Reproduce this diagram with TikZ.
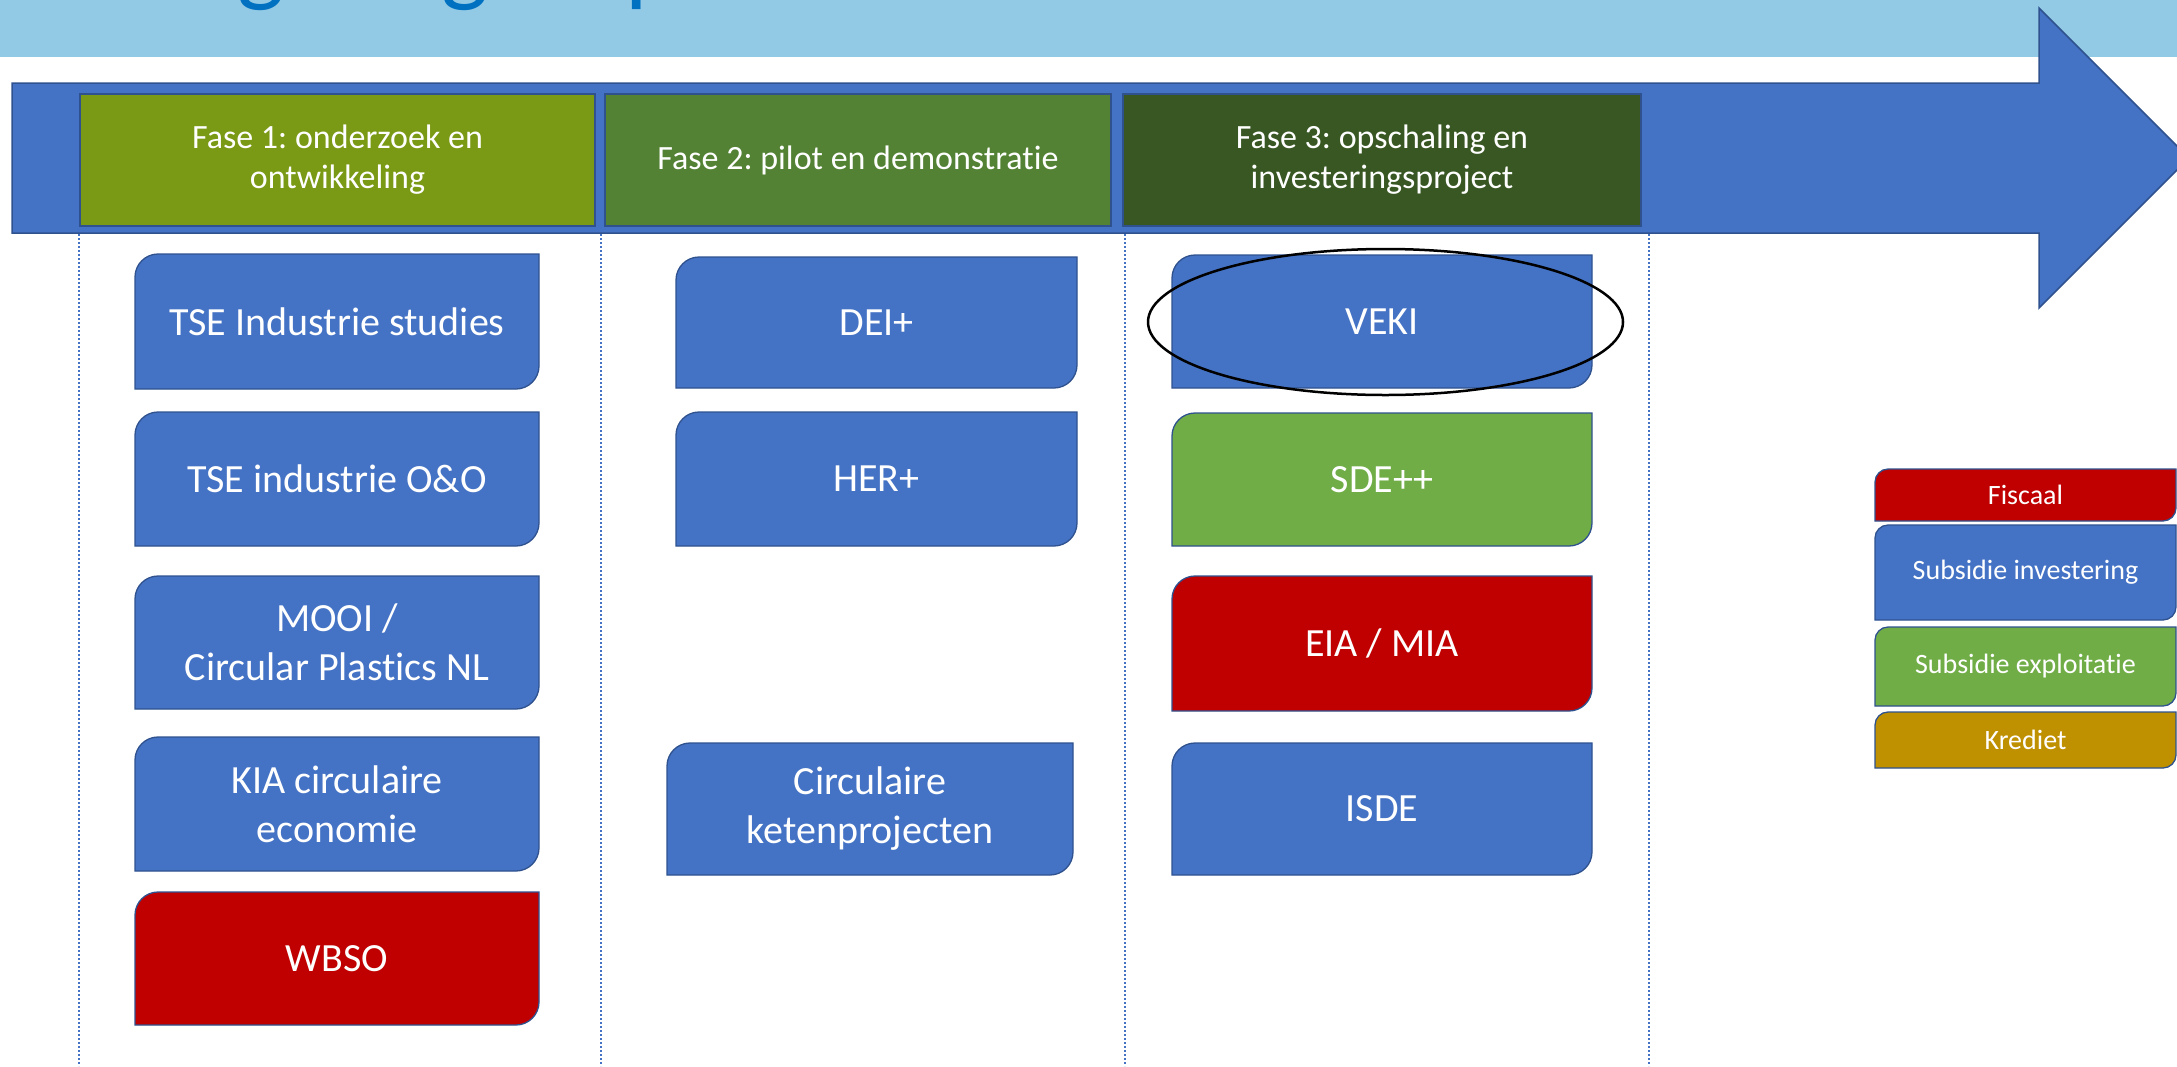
\documentclass[tikz,border=0pt]{standalone}
\usepackage{fontspec}
\setmainfont{Carlito}[Ligatures=NoCommon]
\frenchspacing
\usetikzlibrary{shapes.geometric}
\definecolor{band}{RGB}{146,202,230}
\definecolor{titleblue}{RGB}{0,112,192}
\definecolor{arrowblue}{RGB}{68,114,196}
\definecolor{boxline}{RGB}{47,82,143}
\definecolor{fasea}{RGB}{122,153,20}
\definecolor{faseb}{RGB}{84,130,53}
\definecolor{fasec}{RGB}{56,87,35}
\definecolor{bblue}{RGB}{68,114,196}
\definecolor{bgreen}{RGB}{112,173,71}
\definecolor{bred}{RGB}{192,0,0}
\definecolor{bgold}{RGB}{191,144,0}
\tikzset{
  header/.style={rectangle, draw=boxline, line width=1.5pt, inner sep=0pt, text=white, align=center, font=\fontsize{34}{40}\selectfont},
  boxtext/.style={inner sep=0pt, text=white, align=center, font=\fontsize{40}{49}\selectfont},
  legtext/.style={inner sep=0pt, text=white, align=center, font=\fontsize{28}{34}\selectfont},
  titlefrag/.style={inner sep=0pt, text=titleblue, font=\fontsize{100}{120}\selectfont},
  sepline/.style={draw=arrowblue, line width=1.5pt, dash pattern=on 2pt off 2pt},
}
% #1 name, #2 x1, #3 y1, #4 x2, #5 y2, #6 fill, #7 corner radius, #8 style, #9 text
\newcommand\pbox[9]{%
  \filldraw[fill=#6, draw=boxline, line width=1.3pt]
    ({#2},{#3+#7}) .. controls ({#2},{#3+0.45*#7}) and ({#2+0.45*#7},{#3}) .. ({#2+#7},{#3})
    -- ({#4},{#3}) -- ({#4},{#5-#7})
    .. controls ({#4},{#5-0.45*#7}) and ({#4-0.45*#7},{#5}) .. ({#4-#7},{#5})
    -- ({#2},{#5}) -- cycle;
  \node[#8] (#1) at ({(#2+#4)/2},{(#3+#5)/2}) {#9};
}
\begin{document}
\begin{tikzpicture}[x=1pt,y=-1pt]
\useasboundingbox (0,0) rectangle (2177,1066);
\clip (0,0) rectangle (2177,1066);
\fill[white] (0,0) rectangle (2177,1066);
% title band
\fill[band] (0,0) rectangle (2177,57);
\node[titlefrag, anchor=base west] (tg1) at (237,-7) {g};
\node[titlefrag, anchor=base west] (tg2) at (441,-7) {g};
\node[titlefrag, anchor=base west] (tp1) at (625,-7) {p};
% big arrow
\filldraw[fill=arrowblue, draw=boxline, line width=1.5pt]
  (12,83) -- (2039,83) -- (2039,8) -- (2189,158) -- (2039,308) -- (2039,233) -- (12,233) -- cycle;
% phase headers
\node[header, fill=fasea, minimum width=515, minimum height=132] (h1) at (337.5,160) {Fase 1: onderzoek en\\ontwikkeling};
\node[header, fill=faseb, minimum width=506, minimum height=132] (h2) at (858,160) {Fase 2: pilot en demonstratie};
\node[header, fill=fasec, minimum width=518, minimum height=132] (h3) at (1382,160) {Fase 3: opschaling en\\investeringsproject};
% separators
\draw[sepline] (79,234) -- (79,1066);
\draw[sepline] (601,234) -- (601,1066);
\draw[sepline] (1125,234) -- (1125,1066);
\draw[sepline] (1649,234) -- (1649,1066);
% column 1
\pbox{tses}{135}{254}{539}{389}{bblue}{23}{boxtext}{TSE Industrie studies}
\pbox{tseo}{135}{412}{539}{546}{bblue}{23}{boxtext}{TSE industrie O\&O}
\pbox{mooi}{135}{576}{539}{709}{bblue}{23}{boxtext}{MOOI /\\Circular Plastics NL}
\pbox{kia}{135}{737}{539}{871}{bblue}{23}{boxtext}{KIA circulaire\\economie}
\pbox{wbso}{135}{892}{539}{1025}{bred}{23}{boxtext}{WBSO}
% column 2
\pbox{dei}{676}{257}{1077}{388}{bblue}{23}{boxtext}{DEI+}
\pbox{her}{676}{412}{1077}{546}{bblue}{23}{boxtext}{HER+}
\pbox{circ}{667}{743}{1073}{875}{bblue}{23}{boxtext}{Circulaire\\ketenprojecten}
% column 3
\pbox{veki}{1172}{255}{1592}{388}{bblue}{23}{boxtext}{VEKI}
\pbox{sde}{1172}{413}{1592}{546}{bgreen}{23}{boxtext}{SDE++}
\pbox{eia}{1172}{576}{1592}{711}{bred}{23}{boxtext}{EIA / MIA}
\pbox{isde}{1172}{743}{1592}{875}{bblue}{23}{boxtext}{ISDE}
% highlight ellipse
\node[draw=black, ellipse, line width=2.5pt, inner sep=0pt, minimum width=475, minimum height=146] (hl) at (1385.5,322) {};
% legend
\pbox{lfis}{1875}{469}{2176}{521}{bred}{13}{legtext}{Fiscaal}
\pbox{linv}{1875}{525}{2176}{620}{bblue}{13}{legtext}{Subsidie investering}
\pbox{lexp}{1875}{627}{2176}{706}{bgreen}{13}{legtext}{Subsidie exploitatie}
\pbox{lkre}{1875}{712}{2176}{768}{bgold}{13}{legtext}{Krediet}
\end{tikzpicture}
\end{document}
